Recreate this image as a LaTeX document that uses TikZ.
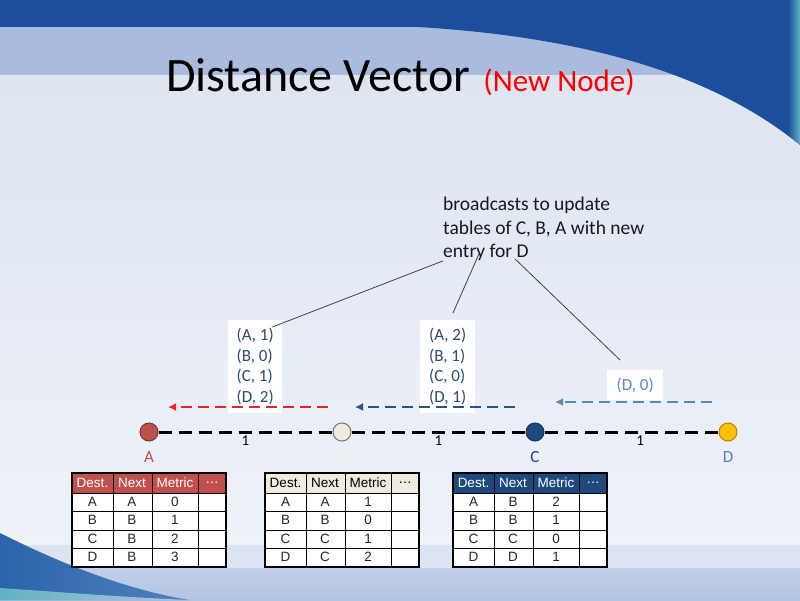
\documentclass[tikz,border=0pt]{standalone}
\usepackage{fontspec}
\setmainfont{Carlito}
\newfontfamily\tabfont{Liberation Sans}
\usetikzlibrary{positioning,arrows.meta}

\definecolor{dvred}{HTML}{C0504D}
\definecolor{dvcream}{HTML}{EEECE1}
\definecolor{dvnavy}{HTML}{1F497D}
\definecolor{dvsteel}{HTML}{4F81BD}
\definecolor{dvgold}{HTML}{FFC000}
\definecolor{dvbright}{HTML}{E8232A}
\definecolor{dvarrow}{HTML}{2A5288}
\definecolor{dvlight}{HTML}{5A86C0}
\definecolor{boxtext}{HTML}{2B4A72}
\definecolor{bgdark}{HTML}{1D4E9E}
\definecolor{bgband}{HTML}{A9BCDD}
\definecolor{bgtop}{HTML}{DEE5F1}
\definecolor{bgbot}{HTML}{EEF2F9}
\definecolor{bgfoot}{HTML}{DCE4F1}
\definecolor{bgfootdark}{HTML}{B3C4E2}
\definecolor{bgswoosh}{HTML}{2C64AA}
\definecolor{bgteal}{HTML}{5FB3C2}

% routing table: name, left x, header fill, header text, rows
\newcommand{\routetable}[5]{%
 \begin{scope}[shift={(#2,0)}]
  \fill[white] (0,473) rectangle (154,567);
  \fill[#3] (0,473) rectangle (154,493);
  \node[cell, text=#4] (#1-h1) at (20.5,483) {Dest.};
  \node[cell, text=#4] (#1-h2) at (60,483) {Next};
  \node[cell, text=#4] (#1-h3) at (103,483) {Metric};
  \node[cell, text=#4] (#1-h4) at (140,483) {\ldots};
  \foreach \d/\n/\m [count=\r] in {#5} {
   \node[cell] (#1-\r-1) at (20.5,483+18.5*\r) {\d};
   \node[cell] (#1-\r-2) at (60,483+18.5*\r) {\n};
   \node[cell] (#1-\r-3) at (103,483+18.5*\r) {\m};
  }
  \foreach \x in {41,80,126} \draw[cellline] (\x,473) -- (\x,567);
  \foreach \y in {493,511.5,530,548.5} \draw[cellline] (0,\y) -- (154,\y);
  \draw[tableframe] (0,473) rectangle (154,567);
 \end{scope}}

\begin{document}
\begin{tikzpicture}[x=1pt, y=-1pt,
  router/.style={circle, minimum size=18pt, inner sep=0pt, line width=1pt},
  link/.style={line width=3pt, dash pattern=on 13pt off 7pt},
  cost/.style={below=2pt, inner sep=0pt, font=\fontsize{15}{15}\selectfont},
  nodename/.style={inner sep=0pt, font=\fontsize{17}{17}\selectfont},
  bcast/.style={line width=2.5pt, dash pattern=on 11pt off 6pt, -{Latex[length=8pt,width=8pt]}},
  infobox/.style={fill=white, text=boxtext, align=left, anchor=north west, inner xsep=7pt,
    font=\fontsize{17}{20.5}\selectfont},
  callout/.style={draw=black!75, line width=0.8pt},
  cell/.style={inner sep=0pt, text=black!85, font=\tabfont\fontsize{13.5}{13.5}\selectfont},
  cellline/.style={draw=black, line width=0.7pt},
  tableframe/.style={draw=black, line width=2pt}]
\useasboundingbox (0,0) rectangle (800,600);

% slide background
\shade[top color=bgtop, bottom color=bgbot] (0,75) rectangle (800,545);
\fill[bgdark] (0,0) rectangle (800,27);
\fill[bgband] (0,27) rectangle (800,75);
\fill[bgdark] (418,27) .. controls (600,38) and (720,80) .. (800,145) -- (800,27) -- cycle;
\shade[left color=bgdark, right color=bgteal] (788,0) -- (800,0) -- (800,145) -- (788,135) -- cycle;
\fill[bgfoot] (0,545) rectangle (800,568);
\shade[top color=bgfootdark!80, bottom color=bgfootdark] (0,568) rectangle (800,600);
\shade[left color=bgswoosh, right color=dvsteel] (0,533) .. controls (70,568) and (130,590) .. (189,600) -- (0,600) -- cycle;
\shade[left color=bgteal, right color=bgfootdark] (0,588) .. controls (60,592) and (120,597) .. (189,600) -- (0,600) -- cycle;

% title
\node[anchor=base west, inner sep=0pt] (title) at (166,91)
  {\fontsize{48}{48}\selectfont Distance Vector\hspace{13pt}\fontsize{31}{31}\selectfont\color{red}(New Node)};

% routers and links
\node[router, fill=dvred, draw=dvred!65!black] (A) at (149,432) {};
\node[router, fill=dvcream, draw=black!55] (B) at (342,432) {};
\node[router, fill=dvnavy, draw=dvnavy!70!black] (C) at (535,432) {};
\node[router, fill=dvgold, draw=dvgold!70!black] (D) at (728,432) {};
\draw[link] (A) -- node[cost] (ab) {1} (B);
\draw[link] (B) -- node[cost] (bc) {1} (C);
\draw[link] (C) -- node[cost, pos=0.55] (cd) {1} (D);
\node[nodename, text=dvred, below=10pt of A] (Aname) {A};
\node[nodename, text=dvcream, below=10pt of B] (Bname) {B};
\node[nodename, text=dvnavy, below=10pt of C] (Cname) {C};
\node[nodename, text=dvsteel, below=10pt of D] (Dname) {D};

% advertised vectors
\node[infobox, minimum width=54pt, minimum height=93pt] (Bvec) at (228,320) {(A, 1)\\(B, 0)\\(C, 1)\\(D, 2)};
\node[infobox, minimum width=55pt, minimum height=93pt] (Cvec) at (420,320) {(A, 2)\\(B, 1)\\(C, 0)\\(D, 1)};
\node[infobox, text=dvlight, minimum width=56pt, minimum height=30pt] (Dvec) at (607,370) {(D, 0)};

\coordinate (redtail) at (328,407);
\coordinate (redhead) at (168,407);
\coordinate (navytail) at (515,407);
\coordinate (navyhead) at (355,407);
\coordinate (steeltail) at (712,402);
\coordinate (steelhead) at (555,402);
\draw[bcast, dvbright] (redtail) -- (redhead);
\draw[bcast, dvarrow] (navytail) -- (navyhead);
\draw[bcast, dvlight] (steeltail) -- (steelhead);

% broadcast note
\node[anchor=north west, inner sep=0pt, align=left, text=black!90, font=\fontsize{19.5}{23.4}\selectfont] (note) at (443,197)
  {broadcasts to update\\tables of C, B, A with new\\entry for D};
\draw[callout] (note.south west) -- ([xshift=-10pt, yshift=-7pt]Bvec.north east);
\draw[callout] ([xshift=36pt, yshift=7pt]note.south west) -- ([xshift=33pt, yshift=7pt]Cvec.north west);
\draw[callout] ([xshift=72pt, yshift=2pt]note.south west) -- ([xshift=13pt, yshift=10pt]Dvec.north west);

% routing tables
\routetable{tabA}{72}{dvred}{white}{A/A/0, B/B/1, C/B/2, D/B/3}
\routetable{tabB}{265}{dvcream}{black}{A/A/1, B/B/0, C/C/1, D/C/2}
\routetable{tabC}{453}{dvnavy}{white}{A/B/2, B/B/1, C/C/0, D/D/1}
\end{tikzpicture}
\end{document}
